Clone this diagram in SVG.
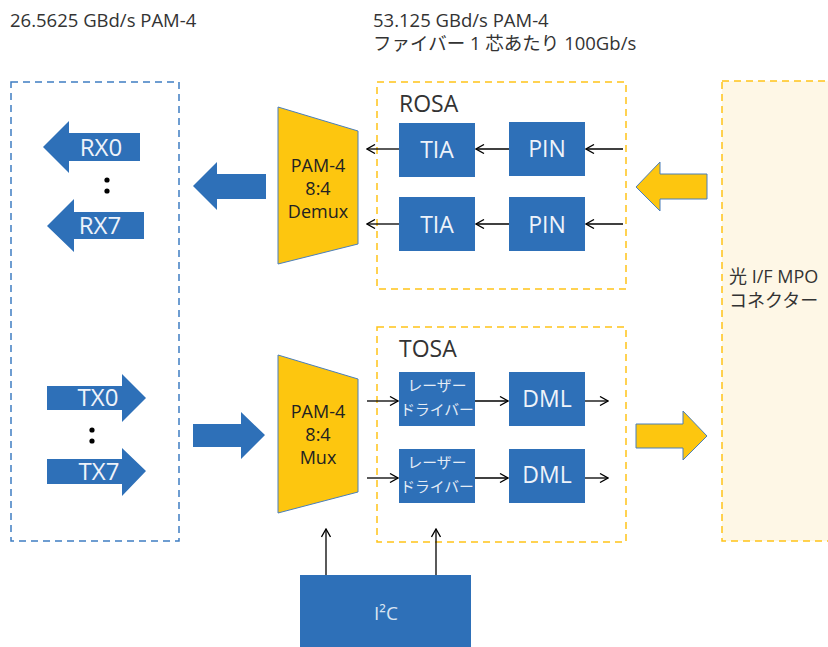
<svg xmlns="http://www.w3.org/2000/svg" width="828" height="647" viewBox="0 0 828 647">
  <style>
    text { font-family: "Open Sans", "Noto Sans", "Noto Sans CJK JP", sans-serif; }
    .lbl { fill: #333333; font-size: 18.5px; }
    .sec { fill: #333333; font-size: 23px; }
    .blk { fill: #2E70B8; }
    .blk-t { fill: #EEF3FA; font-size: 23px; text-anchor: middle; }
    .drv-t { fill: #E4ECF6; font-size: 14.8px; text-anchor: middle; }
    .mux { fill: #FDC60F; stroke: #4A7EBB; stroke-width: 1; }
    .mux-t { fill: #222222; font-size: 18px; text-anchor: middle; }
    .fat-b { fill: #2E70B8; }
    .fat-y { fill: #FDC60F; stroke: #4A7EBB; stroke-width: 1; }
    .fat-t { fill: #EEF3FA; font-size: 24px; text-anchor: middle; }
    .dash-b { fill: none; stroke: #3F7EC2; stroke-width: 1.5; stroke-dasharray: 7 5; }
    .dash-y { fill: none; stroke: #FFC419; stroke-width: 1.5; stroke-dasharray: 7 5; }
    .wire { stroke: #000000; stroke-width: 1.3; fill: none; marker-end: url(#head); }
  </style>
  <defs>
    <marker id="head" viewBox="0 0 10 10" refX="9" refY="5" markerWidth="10" markerHeight="10" markerUnits="userSpaceOnUse" orient="auto">
      <path d="M1,0.5 L9,5 L1,9.5" fill="none" stroke="#000" stroke-width="1.3"/>
    </marker>
  </defs>

  <!-- header labels -->
  <text class="lbl" x="10" y="27">26.5625 GBd/s PAM-4</text>
  <text class="lbl" x="373" y="27">53.125 GBd/s PAM-4</text>
  <text class="lbl" x="373" y="50">ファイバー 1 芯あたり 100Gb/s</text>

  <!-- electrical host side -->
  <g id="host">
    <rect class="dash-b" x="11" y="82" width="168" height="459"/>
    <g id="rx0">
      <polygon class="fat-b" points="43,147 69,121 69,133 140,133 140,161 69,161 69,173"/>
      <text class="fat-t" x="101" y="156">RX0</text>
    </g>
    <g id="rx7">
      <polygon class="fat-b" points="47,226 74,199 74,212 144,212 144,239 74,239 74,252"/>
      <text class="fat-t" x="100" y="234">RX7</text>
    </g>
    <circle cx="107" cy="180" r="2.6" fill="#000"/>
    <circle cx="107" cy="191" r="2.6" fill="#000"/>
    <g id="tx0">
      <polygon class="fat-b" points="47,386 122,386 122,374 146,398 122,422 122,410 47,410"/>
      <text class="fat-t" x="98" y="406">TX0</text>
    </g>
    <g id="tx7">
      <polygon class="fat-b" points="47,459 122,459 122,448 146,471 122,496 122,484 47,484"/>
      <text class="fat-t" x="99" y="480">TX7</text>
    </g>
    <circle cx="92" cy="430" r="2.6" fill="#000"/>
    <circle cx="92" cy="441" r="2.6" fill="#000"/>
  </g>

  <!-- bus arrows between host and gearboxes -->
  <g id="bus-rx">
    <polygon class="fat-b" points="193,186 217,162 217,174 266,174 266,199 217,199 217,210"/>
  </g>
  <g id="bus-tx">
    <polygon class="fat-b" points="193,424 241,424 241,412 265,435 241,459 241,447 193,447"/>
  </g>

  <!-- gearboxes -->
  <g id="demux">
    <polygon class="mux" points="278,107 358,131 358,244 278,264"/>
    <text class="mux-t" x="318" y="172">PAM-4</text>
    <text class="mux-t" x="318" y="195">8:4</text>
    <text class="mux-t" x="318" y="218">Demux</text>
  </g>
  <g id="mux">
    <polygon class="mux" points="278,355 358,379 358,492 278,513"/>
    <text class="mux-t" x="318" y="418">PAM-4</text>
    <text class="mux-t" x="318" y="441">8:4</text>
    <text class="mux-t" x="318" y="464">Mux</text>
  </g>

  <!-- ROSA -->
  <g id="rosa">
    <rect class="dash-y" x="377" y="82" width="249" height="207"/>
    <text class="sec" x="399" y="112">ROSA</text>
  </g>
  <g id="tia1"><rect class="blk" x="399" y="123" width="76" height="54"/><text class="blk-t" x="437" y="158">TIA</text></g>
  <g id="tia2"><rect class="blk" x="399" y="197" width="76" height="54"/><text class="blk-t" x="437" y="233">TIA</text></g>
  <g id="pin1"><rect class="blk" x="509" y="122" width="76" height="54"/><text class="blk-t" x="547" y="157">PIN</text></g>
  <g id="pin2"><rect class="blk" x="509" y="197" width="76" height="54"/><text class="blk-t" x="547" y="233">PIN</text></g>

  <!-- TOSA -->
  <g id="tosa">
    <rect class="dash-y" x="377" y="327" width="249" height="215"/>
    <text class="sec" x="399" y="357">TOSA</text>
  </g>
  <g id="drv1">
    <rect class="blk" x="399" y="372" width="76" height="54"/>
    <text class="drv-t" x="437" y="391">レーザー</text>
    <text class="drv-t" x="437" y="415">ドライバー</text>
  </g>
  <g id="drv2">
    <rect class="blk" x="399" y="449" width="76" height="54"/>
    <text class="drv-t" x="437" y="468">レーザー</text>
    <text class="drv-t" x="437" y="492">ドライバー</text>
  </g>
  <g id="dml1"><rect class="blk" x="509" y="372" width="76" height="54"/><text class="blk-t" x="547" y="407">DML</text></g>
  <g id="dml2"><rect class="blk" x="509" y="449" width="76" height="54"/><text class="blk-t" x="547" y="483">DML</text></g>

  <!-- optical connector -->
  <g id="mpo">
    <rect x="722" y="81" width="120" height="460" fill="#FEF7E6" stroke="#FFC419" stroke-width="1.5" stroke-dasharray="7 5"/>
    <text class="lbl" x="729" y="283" style="font-size:18px">光 I/F MPO</text>
    <text class="lbl" x="729" y="307" style="font-size:18px">コネクター</text>
  </g>
  <g id="opt-in">
    <polygon class="fat-y" points="636,187 660,162 660,174 707,174 707,199 660,199 660,211"/>
  </g>
  <g id="opt-out">
    <polygon class="fat-y" points="636,424 683,424 683,411 707,436 683,460 683,448 636,448"/>
  </g>

  <!-- management -->
  <g id="i2c">
    <rect class="blk" x="300" y="575" width="171" height="75"/>
    <text x="386" y="620" text-anchor="middle" fill="#D9E4F2" font-size="19">I²C</text>
  </g>

  <!-- signal connectors -->
  <g id="connectors">
    <line class="wire" x1="623" y1="149" x2="586" y2="149"/>
    <line class="wire" x1="509" y1="149" x2="476" y2="149"/>
    <line class="wire" x1="399" y1="149" x2="367" y2="149"/>
    <line class="wire" x1="623" y1="224" x2="586" y2="224"/>
    <line class="wire" x1="509" y1="224" x2="476" y2="224"/>
    <line class="wire" x1="399" y1="224" x2="367" y2="224"/>
    <line class="wire" x1="367" y1="401" x2="398" y2="401"/>
    <line class="wire" x1="475" y1="401" x2="508" y2="401"/>
    <line class="wire" x1="585" y1="401" x2="608" y2="401"/>
    <line class="wire" x1="367" y1="478" x2="398" y2="478"/>
    <line class="wire" x1="475" y1="478" x2="508" y2="478"/>
    <line class="wire" x1="585" y1="478" x2="608" y2="478"/>
    <line class="wire" x1="326" y1="575" x2="326" y2="529"/>
    <line class="wire" x1="436" y1="575" x2="436" y2="529"/>
  </g>
</svg>
